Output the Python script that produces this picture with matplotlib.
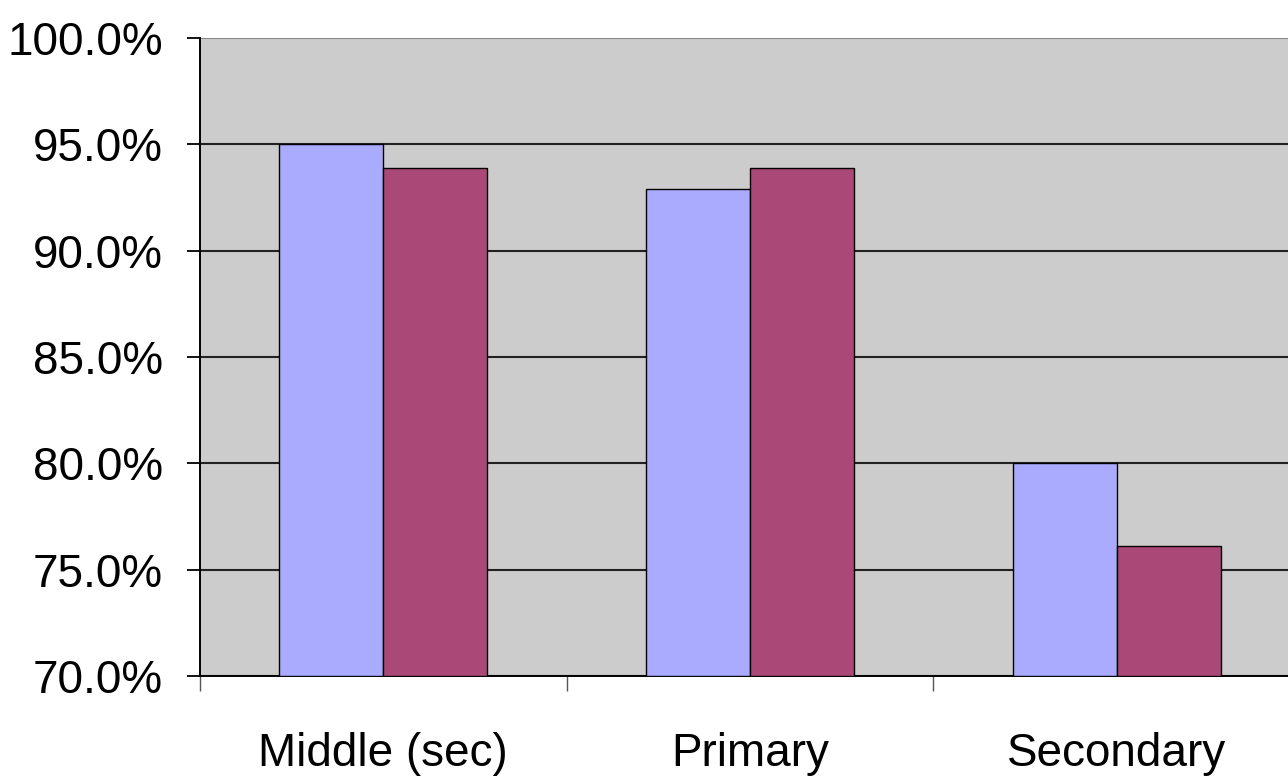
import matplotlib.pyplot as plt
import numpy as np
from matplotlib.ticker import FuncFormatter, FixedLocator
from matplotlib import font_manager

# Enrolment rates by school level, two series
categories = ["Middle (sec)", "Primary", "Secondary"]
series_a = [95.0, 92.9, 80.0]
series_b = [93.9, 93.9, 76.1]

families = {f.name for f in font_manager.fontManager.ttflist}
narrow = "Liberation Sans Narrow" in families
font = "Liberation Sans Narrow" if narrow else "Liberation Sans"
plt.rcParams["font.family"] = [font, "DejaVu Sans"]
label_size = 40 if narrow else 33

fig = plt.figure(figsize=(12.88, 7.81), dpi=100)
ax = fig.add_axes([200 / 1288, 1 - 676 / 781, 1100 / 1288, 638 / 781])

x = np.arange(len(categories))
w = 0.284
ax.bar(x - w / 2, [v - 70 for v in series_a], w, bottom=70, color="#AAAAFF",
       edgecolor="black", linewidth=1, zorder=3)
ax.bar(x + w / 2, [v - 70 for v in series_b], w, bottom=70, color="#AA4977",
       edgecolor="black", linewidth=1, zorder=3)

ax.set_xlim(-0.5, 2.5)
ax.set_ylim(70, 100)
ax.set_facecolor("#CCCCCC")

ax.set_yticks(np.arange(70, 100.1, 5))
ax.yaxis.set_major_formatter(FuncFormatter(lambda v, p: f"{v:.1f}%"))
ax.yaxis.grid(True, color="#222222", linewidth=1.5, zorder=1)
ax.set_axisbelow(True)
ax.get_ygridlines()[-1].set_color("#888888")

ax.set_xticks(x)
ax.set_xticklabels(categories)
ax.xaxis.set_minor_locator(FixedLocator([-0.5, 0.5, 1.5]))
ax.tick_params(axis="x", which="major", length=0, pad=40, labelsize=label_size)
ax.tick_params(axis="x", which="minor", length=11, width=1, color="#555555")
ax.tick_params(axis="y", length=9.5, width=1.3, pad=17, labelsize=label_size)

for side in ("top", "right"):
    ax.spines[side].set_visible(False)
ax.spines["left"].set_linewidth(1.4)
ax.spines["bottom"].set_linewidth(1.4)

fig.savefig("out.png", dpi=100)
